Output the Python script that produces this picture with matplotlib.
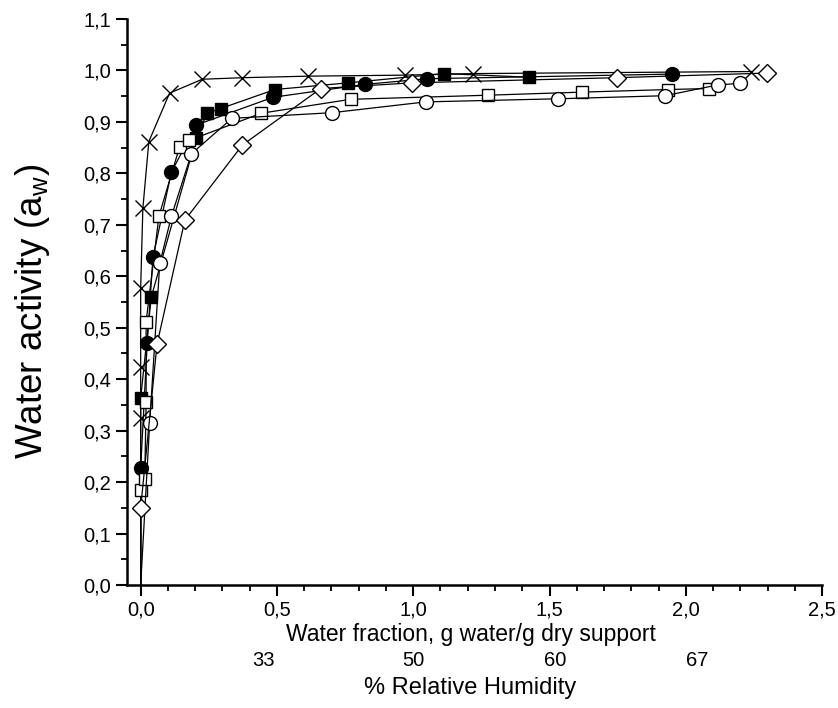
import matplotlib.pyplot as plt
from matplotlib.ticker import MultipleLocator, FuncFormatter
import matplotlib.transforms as mtransforms

plt.rcParams['font.family'] = ['Liberation Sans', 'DejaVu Sans']

# water fraction (g water / g dry support) vs water activity, one array pair per support
cross_x = [0.0, 0.0, 0.0, 0.008, 0.03, 0.106, 0.226, 0.373, 0.614, 0.969, 1.22, 2.24]
cross_y = [0.324, 0.424, 0.577, 0.732, 0.862, 0.956, 0.983, 0.986, 0.989, 0.991, 0.994, 0.998]

fsq_x = [0.0, 0.039, 0.204, 0.244, 0.293, 0.492, 0.761, 1.112, 1.424]
fsq_y = [0.363, 0.56, 0.868, 0.917, 0.926, 0.963, 0.976, 0.994, 0.987]

fci_x = [0.0, 0.024, 0.045, 0.113, 0.204, 0.486, 0.822, 1.049, 1.948]
fci_y = [0.227, 0.47, 0.637, 0.803, 0.894, 0.948, 0.973, 0.984, 0.993]

osq_x = [0.0, 0.015, 0.02, 0.02, 0.067, 0.143, 0.177, 0.443, 0.77, 1.275, 1.621, 1.936, 2.086]
osq_y = [0.185, 0.207, 0.356, 0.512, 0.717, 0.852, 0.864, 0.917, 0.944, 0.952, 0.958, 0.963, 0.965]

oci_x = [0.033, 0.07, 0.113, 0.186, 0.335, 0.702, 1.046, 1.53, 1.924, 2.117, 2.199]
oci_y = [0.314, 0.625, 0.717, 0.838, 0.907, 0.918, 0.939, 0.945, 0.951, 0.972, 0.975]

dia_x = [0.0, 0.06, 0.162, 0.373, 0.661, 0.994, 1.746, 2.297]
dia_y = [0.15, 0.468, 0.709, 0.855, 0.965, 0.976, 0.986, 0.995]

xticks = [0.0, 0.5, 1.0, 1.5, 2.0, 2.5]
yticks = [0.0, 0.1, 0.2, 0.3, 0.4, 0.5, 0.6, 0.7, 0.8, 0.9, 1.0, 1.1]
rh_labels = ['33', '50', '60', '67']
rh_pos = [0.45, 1.0, 1.52, 2.04]

fig = plt.figure(figsize=(8.38, 7.08), dpi=100)
ax = fig.add_axes([0.1516, 0.1737, 0.8294, 0.7994])

series = [
    (cross_x, cross_y, dict(marker='x', ms=11, mew=1.0, mfc='none', mec='black')),
    (fsq_x, fsq_y, dict(marker='s', ms=9, mfc='black', mec='black')),
    (fci_x, fci_y, dict(marker='o', ms=10, mfc='black', mec='black')),
    (osq_x, osq_y, dict(marker='s', ms=9, mfc='white', mec='black', mew=1.0)),
    (oci_x, oci_y, dict(marker='o', ms=10, mfc='white', mec='black', mew=1.0)),
    (dia_x, dia_y, dict(marker='D', ms=9, mfc='white', mec='black', mew=1.0)),
]
for xs, ys, style in series:
    ax.plot([0.0] + xs, [0.0] + ys, color='black', lw=0.9, **style,
            markevery=list(range(1, len(xs) + 1)))

ax.set_xlim(-0.05, 2.5)
ax.set_ylim(0, 1.1)
ax.set_xticks(xticks)
ax.set_yticks(yticks)
comma = FuncFormatter(lambda v, p: f"{v:.1f}".replace('.', ','))
ax.xaxis.set_major_formatter(comma)
ax.yaxis.set_major_formatter(comma)
ax.xaxis.set_minor_locator(MultipleLocator(0.1))
ax.yaxis.set_minor_locator(MultipleLocator(0.05))
ax.tick_params(which='major', direction='out', length=8, width=1.5, labelsize=14.5)
ax.tick_params(which='minor', direction='out', length=4.5, width=1.3)

for s in ['top', 'right']:
    ax.spines[s].set_visible(False)
for s in ['left', 'bottom']:
    ax.spines[s].set_linewidth(1.8)

fig.text(32 / 838, 1 - 311 / 708, "Water activity (a$_\\mathregular{w}$)", rotation=90,
         ha='center', va='center', fontsize=26.5)

trans = mtransforms.blended_transform_factory(ax.transData, ax.transAxes)
ax.text(1.21, -0.0866, "Water fraction, g water/g dry support", transform=trans,
        ha='center', va='center', fontsize=16.5)
for lab, pos in zip(rh_labels, rh_pos):
    ax.text(pos, -0.134, lab, transform=trans, ha='center', va='center', fontsize=14.5)
ax.text(1.21, -0.182, "% Relative Humidity", transform=trans, ha='center', va='center', fontsize=17)

fig.savefig("out.png", dpi=100)
